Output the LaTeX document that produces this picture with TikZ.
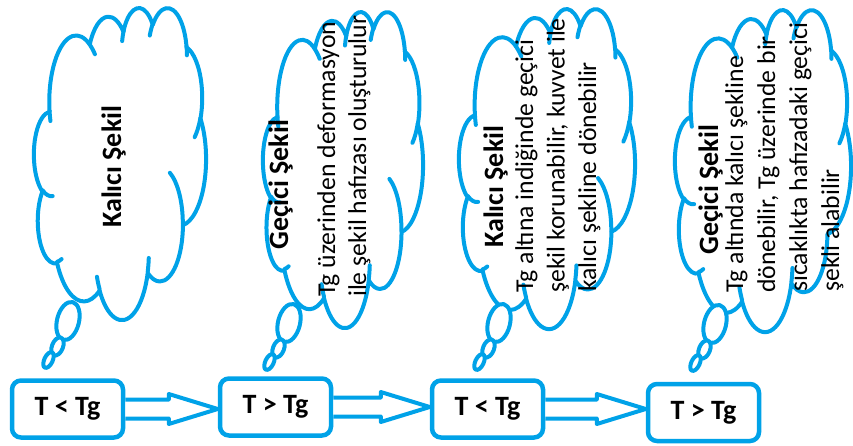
\documentclass[tikz,border=0pt]{standalone}
\usepackage{fontspec}
\setmainfont{Carlito}
\usetikzlibrary{calc}
\definecolor{cblue}{RGB}{0,162,232}

% OOXML-style arcTo: radii (pt, 1/100 units), start and sweep angles (visual, degrees)
\newcommand\ooarc[4]{%
  \pgfmathsetmacro\ooSt{#3}%
  \pgfmathsetmacro\ooEn{#3+#4}%
  \pgfmathsetmacro\ooTa{atan2((#1)*sin(\ooSt),(#2)*cos(\ooSt))}%
  \pgfmathsetmacro\ooTb{atan2((#1)*sin(\ooEn),(#2)*cos(\ooEn))}%
  \pgfmathsetmacro\ooD{\ooTb-(\ooTa)}%
  \ifdim #4pt>0pt
    \ifdim \ooD pt<0pt \pgfmathsetmacro\ooD{\ooD+360}\fi
  \else
    \ifdim \ooD pt>0pt \pgfmathsetmacro\ooD{\ooD-360}\fi
  \fi
  \pgfmathsetmacro\ooA{-(\ooTa)}%
  \pgfmathsetmacro\ooB{-(\ooTa)-(\ooD)}%
  \pgfpatharc{\ooA}{\ooB}{#1pt and #2pt}%
}

\newcommand\wordcloud[5]{% x0 y0 W H, draw-big-inner-arc (1/0)
  \begin{scope}[shift={(#1,#2)}, xscale=#3/432, yscale=#4/432]
    \path[cloudline, fill=white] (39.00,143.70)
      \pgfextra{%
        \ooarc{67.53}{91.90}{-190.487483}{123.780533}%
        \ooarc{53.33}{72.67}{-144.102383}{89.945233}%
        \ooarc{43.65}{59.45}{-145.807917}{99.723017}%
        \ooarc{48.57}{65.95}{-130.986067}{117.241733}%
        \ooarc{53.33}{72.73}{-78.708883}{109.026917}%
        \ooarc{67.75}{92.20}{-46.26725}{130.269}%
        \ooarc{57.85}{78.67}{0.625017}{114.033333}%
        \ooarc{67.52}{92.15}{22.4516}{115.17255}%
        \ooarc{77.20}{105.43}{66.242633}{75.711017}%
        \ooarc{43.60}{59.18}{-274.942083}{146.735567}%
        \ooarc{43.45}{59.45}{-246.8285}{152.51885}%
        \pgfpathclose}; 
    \path[cloudline]
      (46.93,261.77) \pgfextra{\ooarc{43.45}{59.45}{86.742}{26.4295}}
      (69.28,348.99) \pgfextra{\ooarc{43.60}{59.18}{73.610467}{11.447467}}
      (164.78,390.90) \pgfextra{\ooarc{67.52}{92.15}{137.62415}{14.0811}}
      (288.27,347.51) \pgfextra{\ooarc{67.52}{92.15}{6.453267}{15.99835}}
      (417.98,153.54) \pgfextra{\ooarc{53.33}{72.73}{30.318033}{27.7515}}
      (383.24,54.26) \pgfextra{\ooarc{48.57}{65.95}{-13.744333}{14.8589}}
      (290.78,39.52) \pgfextra{\ooarc{48.57}{65.95}{-149.18145}{18.195367}}
      (221.41,47.20) \pgfextra{\ooarc{43.65}{59.45}{-163.494267}{17.68635}}
      (140.00,51.92) \pgfextra{\ooarc{67.53}{91.90}{-66.70695}{12.31935}}
      (41.27,157.89) \pgfextra{\ooarc{67.53}{91.90}{157.65435}{11.858167}};
    \ifnum#5=1
      \path[cloudline] (341.29,229.54) \pgfextra{\ooarc{57.85}{78.67}{-70.29235}{70.917367}};
    \fi
  \end{scope}}

\newcommand\cloudtail[2]{% center of the large ellipse
  \draw[cloudline, fill=white, rotate around={-14:(#1,#2)}] (#1,#2) ellipse [x radius=11pt, y radius=19.5pt];
  \draw[cloudline, fill=white, rotate around={-22:($(#1,#2)+(-10.5,25.5)$)}] ($(#1,#2)+(-10.5,25.5)$) ellipse [x radius=5.5pt, y radius=9.5pt];
  \draw[cloudline, fill=white, rotate around={-25:($(#1,#2)+(-19.5,39)$)}] ($(#1,#2)+(-19.5,39)$) ellipse [x radius=4.2pt, y radius=8.5pt];
}

\newcommand\blockarrow[3]{% from, to, tip name
  \coordinate (#3) at (#2.west|-#1.east);
  \draw[arrowline] ($(#1.east)+(0,-9.5)$) -- ($(#3)+(-49,-9.5)$) -- ($(#3)+(-49,-15)$)
     -- (#3) -- ($(#3)+(-49,15)$) -- ($(#3)+(-49,9.5)$) -- ($(#1.east)+(0,9.5)$);
}

\begin{document}
\begin{tikzpicture}[x=1pt, y=-1pt,
  cloudline/.style={draw=cblue, line width=4pt, line join=round, line cap=round},
  arrowline/.style={draw=cblue, line width=4pt, line join=round, fill=white},
  tbox/.style={draw=cblue, line width=4.5pt, rounded corners=9pt, minimum width=111pt,
     minimum height=57pt, inner sep=0pt, font=\fontsize{28}{34}\selectfont\bfseries},
  ttl/.style={rotate=90, anchor=base west, inner sep=0pt, font=\fontsize{28}{34}\selectfont\bfseries},
  bdy/.style={rotate=90, anchor=base west, inner sep=0pt, font=\fontsize{25.7}{32}\selectfont}]
\useasboundingbox (0,0) rectangle (853,446);
\fill[white] (0,0) rectangle (853,446);

% clouds
\wordcloud{34}{7}{172}{312}{1}
\wordcloud{263}{11}{160}{316}{1}
\wordcloud{459}{8}{176}{320}{1}
\wordcloud{675}{9}{176}{322}{0}

\cloudtail{68}{321}
\cloudtail{289}{323}
\cloudtail{499}{323}
\cloudtail{715}{324}

% texts
\node[ttl] (t1) at (121,228) {Kalıcı Şekil};

\node[ttl] (t2) at (288,250) {Geçici Şekil};
\node[bdy] (t2a) at (335,297) {Tg üzerinden deformasyon};
\node[bdy] (t2b) at (366,297) {ile şekil hafızası oluşturulur};

\node[ttl] (t3) at (503,248) {Kalıcı Şekil};
\node[bdy] (t3a) at (533,293) {Tg altına indiğinde geçici};
\node[bdy] (t3b) at (564.5,293) {şekil korunabilir, kuvvet ile};
\node[bdy] (t3c) at (596,292) {kalıcı şekline dönebilir};

\node[ttl] (t4) at (718,255) {Geçici Şekil};
\node[bdy] (t4a) at (743,293) {Tg altında kalıcı şekline};
\node[bdy] (t4b) at (775,293) {dönebilir, Tg üzerinde bir};
\node[bdy] (t4c) at (807,292) {sıcaklıkta hafızadaki geçici};
\node[bdy] (t4d) at (839,292) {şekli alabilir};

% boxes
\node[tbox] (b1) at (67.5,409) {T < Tg};
\node[tbox] (b2) at (275.5,407) {T > Tg};
\node[tbox] (b3) at (487.5,409) {T < Tg};
\node[tbox] (b4) at (703.5,412.5) {T > Tg};

% arrows
\blockarrow{b1}{b2}{p1}
\blockarrow{b2}{b3}{p2}
\blockarrow{b3}{b4}{p3}
\end{tikzpicture}
\end{document}
